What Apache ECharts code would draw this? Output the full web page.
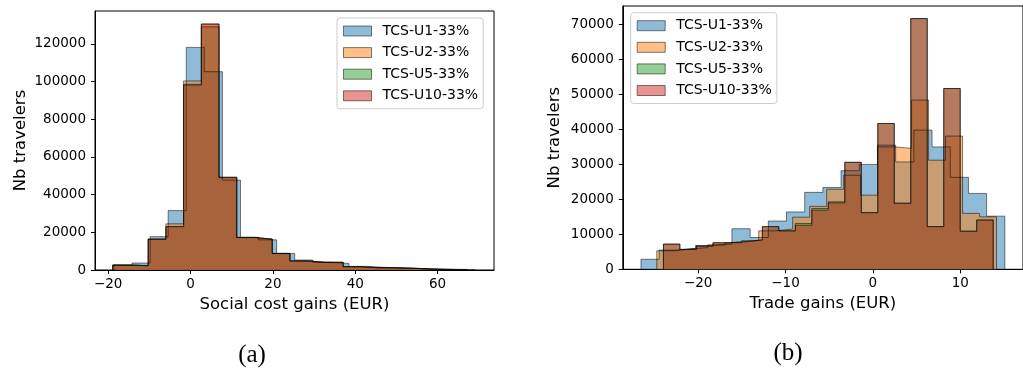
<!DOCTYPE html>
<html><head><meta charset="utf-8">
<script src="https://cdn.jsdelivr.net/npm/echarts@6/dist/echarts.min.js"></script>
<style>html,body{margin:0;padding:0;background:#fff}#c{width:1023px;height:371px}</style>
</head><body><div id="c"></div>
<script>
const seriesNames = ['TCS-U1-33%', 'TCS-U2-33%', 'TCS-U5-33%', 'TCS-U10-33%'];
const seriesColors = ['#1f77b4', '#ff7f0e', '#2ca02c', '#d62728'];

// (a) Social cost gains: histogram range [lo, hi] (20 bins) and counts per series
const socialRangeU1  = [-18.6, 69.2];
const socialRangeU2  = [-18.9, 67.2];
const socialRangeU5  = [-18.9, 67.2];
const socialRangeU10 = [-18.9, 67.2];
const socialU1  = [2600, 3700, 17700, 31500, 118100, 105200, 47700, 17300, 16000, 8800, 5300, 4100, 3500, 1900, 1400, 1100, 800, 500, 350, 250];
const socialU2  = [2650, 2300, 16400, 24500, 100300, 130500, 49200, 17300, 16400, 8800, 4800, 4100, 4100, 1750, 1200, 1200, 900, 500, 300, 200];
const socialU5  = [2600, 2300, 16300, 23000, 98500, 129000, 49000, 17200, 16300, 8700, 4800, 4100, 4000, 1750, 1200, 1150, 900, 500, 300, 200];
const socialU10 = [2650, 2300, 16400, 23000, 98100, 130500, 49200, 17300, 16400, 8800, 4800, 4100, 4100, 1750, 1200, 1200, 900, 500, 300, 200];
const socialTicks = [-20, 0, 20, 40, 60];

// (b) Trade gains
const tradeRangeU1  = [-26.55, 15.1];
const tradeRangeU2  = [-24.74, 14.15];
const tradeRangeU5  = [-23.98, 13.77];
const tradeRangeU10 = [-23.98, 13.77];
const tradeU1  = [2860, 5500, 6000, 6800, 7200, 11600, 9100, 13800, 16400, 22000, 23400, 28200, 30000, 35500, 30700, 39800, 35000, 26300, 21700, 15200];
const tradeU2  = [5300, 5800, 6200, 7000, 7600, 8200, 11000, 11500, 14900, 18000, 22900, 26900, 21200, 35000, 34600, 48400, 31200, 38100, 16000, 15000];
const tradeU5  = [7200, 5700, 6650, 7600, 7900, 8400, 12200, 11000, 13100, 17400, 19300, 30600, 16200, 41700, 18900, 71700, 12200, 51700, 10900, 14100];
const tradeU10 = [7200, 5700, 6650, 7600, 7900, 8400, 12200, 11000, 12600, 16900, 19000, 30600, 16200, 41700, 18900, 71700, 12200, 51700, 10900, 14100];
const tradeTicks = [-20, -10, 0, 10];

const FONT = 'DejaVu Sans';

function stepPoints(range, counts) {
  const n = counts.length, w = (range[1] - range[0]) / n;
  const pts = [[range[0], 0]];
  counts.forEach((c, i) => pts.push([range[0] + i * w, c]));
  pts.push([range[1], counts[n - 1]]);
  pts.push([range[1], 0]);
  return pts;
}
function rgba(hex, a) {
  const r = parseInt(hex.slice(1, 3), 16), g = parseInt(hex.slice(3, 5), 16), b = parseInt(hex.slice(5, 7), 16);
  return `rgba(${r},${g},${b},${a})`;
}
function histSeries(idx, name, range, counts, color) {
  return {
    type: 'line', name: name, xAxisIndex: idx, yAxisIndex: idx,
    data: stepPoints(range, counts), step: 'end',
    symbol: 'none', showSymbol: false, silent: true,
    lineStyle: { color: 'rgba(0,0,0,0.5)', width: 1 },
    itemStyle: { color: rgba(color, 0.5) },
    areaStyle: { color: rgba(color, 0.5), opacity: 1 },
    emphasis: { disabled: true }
  };
}
const fmtMinus = v => String(v).replace('-', '\u2212');

function xAxisCfg(idx, min, max, ticks, name) {
  return {
    type: 'value', gridIndex: idx, min: min, max: max,
    name: name, nameLocation: 'middle', nameGap: 24,
    nameTextStyle: { fontFamily: FONT, fontSize: 16.5, color: '#000' },
    axisLine: { show: true, onZero: false, lineStyle: { color: '#000', width: 1 } },
    axisTick: { show: true, length: 4, lineStyle: { color: '#000' }, customValues: ticks },
    axisLabel: { fontFamily: FONT, fontSize: 13.5, color: '#000', margin: 7, formatter: fmtMinus, customValues: ticks },
    splitLine: { show: false }
  };
}
function yAxisCfg(idx, max, interval, gap) {
  return {
    type: 'value', gridIndex: idx, min: 0, max: max, interval: interval,
    name: 'Nb travelers', nameLocation: 'middle', nameGap: gap, nameRotate: 90,
    nameTextStyle: { fontFamily: FONT, fontSize: 16.5, color: '#000' },
    axisLine: { show: true, onZero: false, lineStyle: { color: '#000', width: 1 } },
    axisTick: { show: true, length: 4, lineStyle: { color: '#000' } },
    axisLabel: { fontFamily: FONT, fontSize: 13.5, color: '#000', margin: 9, formatter: v => String(v), showMaxLabel: false },
    splitLine: { show: false }
  };
}
function legendCfg(left, top) {
  return {
    orient: 'vertical', left: left, top: top,
    padding: [6, 5, 6, 6], itemGap: 7.6, itemWidth: 28, itemHeight: 10,
    backgroundColor: 'rgba(255,255,255,0.8)', borderColor: '#cccccc', borderWidth: 1, borderRadius: 3,
    selectedMode: false,
    textStyle: { fontFamily: FONT, fontSize: 14, color: '#000', padding: [0, 0, 0, 6] },
    data: seriesNames.map((n, i) => ({
      name: n, icon: 'rect',
      itemStyle: { color: rgba(seriesColors[i], 0.5), borderColor: 'rgba(0,0,0,0.5)', borderWidth: 1 },
      lineStyle: { width: 0, opacity: 0 }
    }))
  };
}

const socialRanges = [socialRangeU1, socialRangeU2, socialRangeU5, socialRangeU10];
const socialCounts = [socialU1, socialU2, socialU5, socialU10];
const tradeRanges = [tradeRangeU1, tradeRangeU2, tradeRangeU5, tradeRangeU10];
const tradeCounts = [tradeU1, tradeU2, tradeU5, tradeU10];

const series = [];
seriesNames.forEach((n, i) => series.push(histSeries(0, n, socialRanges[i], socialCounts[i], seriesColors[i])));
seriesNames.forEach((n, i) => series.push(histSeries(1, n, tradeRanges[i], tradeCounts[i], seriesColors[i])));

const chart = echarts.init(document.getElementById('c'), null, { renderer: 'canvas' });
chart.setOption({
  animation: false,
  backgroundColor: '#fff',
  grid: [
    { left: 95, top: 11, width: 399, height: 259, show: true, borderColor: '#000', borderWidth: 1, backgroundColor: 'transparent' },
    { left: 622.8, top: 6, width: 405.8, height: 263.3, show: true, borderColor: '#000', borderWidth: 1, backgroundColor: 'transparent' }
  ],
  xAxis: [
    xAxisCfg(0, -23.2, 73.7, socialTicks, 'Social cost gains (EUR)'),
    xAxisCfg(1, -28.63, 17.18, tradeTicks, 'Trade gains (EUR)')
  ],
  yAxis: [
    yAxisCfg(0, 137400, 20000, 66),
    yAxisCfg(1, 75300, 10000, 60)
  ],
  legend: [legendCfg(337, 18), legendCfg(630.7, 12.7)],
  graphic: [
    { type: 'text', x: 252, y: 355, style: { text: '(a)', font: '25px "Liberation Serif"', fill: '#000', textAlign: 'center', textVerticalAlign: 'middle' } },
    { type: 'text', x: 788, y: 353, style: { text: '(b)', font: '25px "Liberation Serif"', fill: '#000', textAlign: 'center', textVerticalAlign: 'middle' } }
  ],
  series: series
});
</script></body></html>
